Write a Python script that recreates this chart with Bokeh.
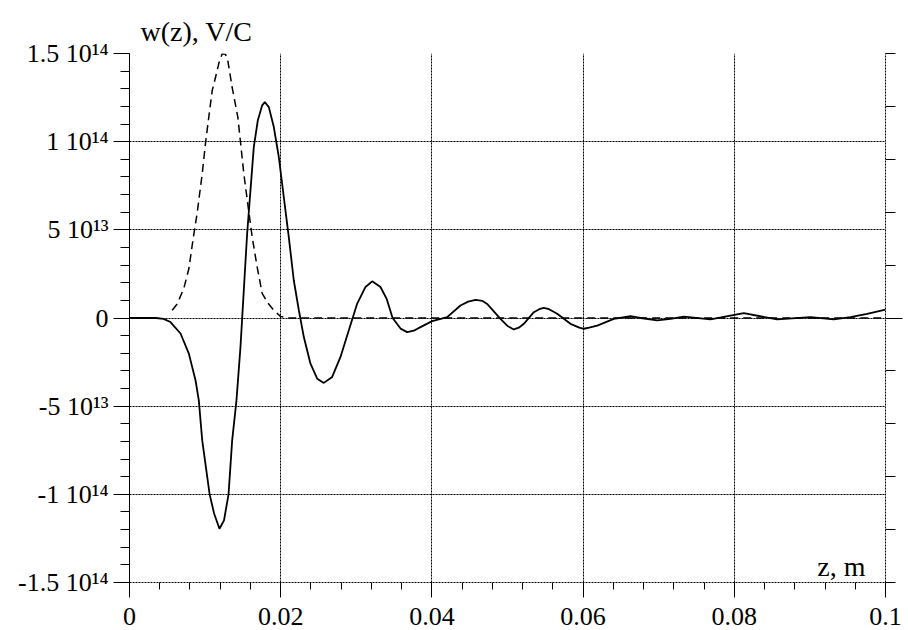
from bokeh.plotting import figure
from bokeh.models import (LinearAxis, FixedTicker, Range1d, Label, Grid,
                          CustomJSTickFormatter, ColumnDataSource)
from bokeh.embed import file_html
from bokeh.resources import INLINE

# ---- data (values in units of 1e13 V/C, z in m) ----
z_solid = [0.0, 0.002, 0.0035, 0.0045, 0.00542, 0.00675, 0.00785, 0.00873,
           0.00917, 0.00962, 0.0106, 0.0112, 0.0119, 0.0125, 0.0131, 0.01358,
           0.01415, 0.01468, 0.01512, 0.01556, 0.016, 0.01644, 0.01697,
           0.01755, 0.0179, 0.01843, 0.01909, 0.01975, 0.02041, 0.02107,
           0.02173, 0.0224, 0.02306, 0.02394, 0.02483, 0.0257, 0.02681,
           0.02791, 0.02901, 0.03012, 0.03122, 0.0321, 0.0332, 0.034, 0.0348,
           0.03585, 0.03673, 0.0376, 0.03849, 0.04004, 0.04202, 0.04378,
           0.0448, 0.04577, 0.0467, 0.04731, 0.04907, 0.0500, 0.05083,
           0.0515, 0.05216, 0.05348, 0.0542, 0.0548, 0.0555, 0.05657, 0.05833,
           0.0595, 0.06009, 0.0608, 0.06187, 0.06406, 0.06627, 0.0676, 0.0698,
           0.07156, 0.07332, 0.07685, 0.08126, 0.08567, 0.09008, 0.09316,
           0.09537, 0.09757, 0.1]
w_solid_e13 = [0.0, 0.0, 0.0, -0.05, -0.23, -0.88, -2.02, -3.53,
               -4.67, -6.94, -10.0, -11.1, -11.95, -11.48, -10.0, -6.94,
               -4.67, -1.64, 1.57, 4.78, 7.24, 9.69, 11.2,
               12.06, 12.24, 11.96, 10.83, 9.13, 6.86, 4.59,
               2.14, 0.44, -1.08, -2.59, -3.44, -3.68, -3.34,
               -2.21, -0.70, 0.82, 1.76, 2.08, 1.76, 1.1, 0.0,
               -0.6, -0.8, -0.72, -0.52, -0.18, 0.05, 0.71,
               0.93, 1.03, 0.97, 0.8, -0.05, -0.45, -0.65,
               -0.55, -0.33, 0.33, 0.5, 0.58, 0.5, 0.24, -0.33,
               -0.55, -0.61, -0.55, -0.43, -0.05, 0.1, 0.0, -0.14,
               -0.05, 0.08, -0.08, 0.27, -0.08, 0.05, -0.08,
               0.05, 0.24, 0.48]

z_bunch = [0.00565, 0.00631, 0.00718, 0.00785, 0.00842, 0.00895, 0.00962,
           0.01005, 0.01049, 0.01094, 0.01138, 0.01185, 0.01226, 0.0127,
           0.0130, 0.01358, 0.01433, 0.01468, 0.01512, 0.0157, 0.01623,
           0.01689, 0.01755, 0.0183, 0.0190, 0.0200, 0.0210, 0.1]
w_bunch_e13 = [0.44, 0.80, 1.67, 2.79, 4.5, 5.95, 8.19,
               9.9, 11.4, 12.9, 13.65, 14.5, 14.98, 14.95,
               14.6, 13.08, 11.39, 9.98, 8.19, 6.29, 4.59,
               2.88, 1.4, 0.85, 0.48, 0.08, 0.0, 0.0]

x_ticks = [0.0, 0.02, 0.04, 0.06, 0.08, 0.1]
x_minor = [0.004 * i for i in range(26)]
y_ticks = [-1.5e14, -1e14, -5e13, 0.0, 5e13, 1e14, 1.5e14]
y_labels = ["-1.5 10\u00b9\u2074", "-1 10\u00b9\u2074", "-5 10\u00b9\u00b3", "0",
            "5 10\u00b9\u00b3", "1 10\u00b9\u2074", "1.5 10\u00b9\u2074"]
y_minor = [1e13 * i for i in range(-15, 16)]
y_right_minor = [3e13 * i for i in range(-5, 6)]
x_grid = [0.02, 0.04, 0.06, 0.08, 0.1]

FONT = "Liberation Serif"

solid = ColumnDataSource(dict(z=z_solid, w=[v * 1e13 for v in w_solid_e13]))
bunch = ColumnDataSource(dict(z=z_bunch, w=[v * 1e13 for v in w_bunch_e13]))

p = figure(width=908, height=630, output_backend="svg", toolbar_location=None,
           x_range=Range1d(0, 0.1), y_range=Range1d(-1.5e14, 1.5e14),
           x_axis_location=None, y_axis_location=None,
           min_border_left=129, min_border_right=23,
           min_border_top=53, min_border_bottom=48,
           title="w(z), V/C")
p.outline_line_color = None
p.background_fill_color = "white"
p.border_fill_color = "white"
p.title.align = "left"
p.title.offset = 11
p.title.standoff = 14
p.title.text_font = FONT
p.title.text_font_size = "28px"
p.title.text_font_style = "normal"
p.title.text_color = "black"

# grids
gx = Grid(dimension=0, ticker=FixedTicker(ticks=x_grid),
          grid_line_color="black", grid_line_dash="2 1", grid_line_width=1)
gy = Grid(dimension=1, ticker=FixedTicker(ticks=y_ticks),
          grid_line_color="black", grid_line_dash="2 1", grid_line_width=1)
p.add_layout(gx)
p.add_layout(gy)

empty = CustomJSTickFormatter(code="return ''")

# left axis with labels like "1.5 10^14"
ly = LinearAxis(ticker=FixedTicker(ticks=y_ticks, minor_ticks=y_minor),
                formatter=CustomJSTickFormatter(
                    args=dict(vals=y_ticks, labs=y_labels),
                    code="for (let i = 0; i < vals.length; i++) {"
                         " if (Math.abs(vals[i] - tick) < 1e6) return labs[i]; }"
                         " return '';"),
                major_tick_out=16, major_tick_in=0,
                minor_tick_out=9, minor_tick_in=0,
                major_label_standoff=5,
                major_label_text_font=FONT, major_label_text_font_size="26px",
                major_label_text_color="black",
                axis_line_color="black", major_tick_line_color="black",
                minor_tick_line_color="black")
p.add_layout(ly, "left")

# right axis (ticks only)
ry = LinearAxis(ticker=FixedTicker(ticks=[0.0], minor_ticks=y_right_minor),
                formatter=empty, major_tick_out=17, major_tick_in=0,
                minor_tick_out=10, minor_tick_in=0,
                axis_line_color="black", axis_line_dash="2 1",
                major_tick_line_color="black", minor_tick_line_color="black")
p.add_layout(ry, "right")

# bottom axis
bx = LinearAxis(ticker=FixedTicker(ticks=x_ticks, minor_ticks=x_minor),
                formatter=CustomJSTickFormatter(code="return String(+tick.toFixed(4))"),
                major_tick_out=15, major_tick_in=0,
                minor_tick_out=7, minor_tick_in=0,
                axis_line_color="black", axis_line_dash="2 1",
                major_tick_line_color="black", minor_tick_line_color="black",
                major_label_text_font=FONT, major_label_text_font_size="26px",
                major_label_text_color="black", major_label_standoff=10)
p.add_layout(bx, "below")

# curves
p.line("z", "w", source=bunch, line_color="black", line_width=1.5,
       line_dash="8 5")
p.line("z", "w", source=solid, line_color="black", line_width=1.8)

# x axis title inside the frame
p.add_layout(Label(x=0.1, y=-1.5e14, x_offset=-20, y_offset=16, text="z, m",
                   text_align="right", text_baseline="alphabetic",
                   text_font=FONT, text_font_size="28px", text_color="black"))

open("out.html", "w").write(file_html(p, INLINE))
